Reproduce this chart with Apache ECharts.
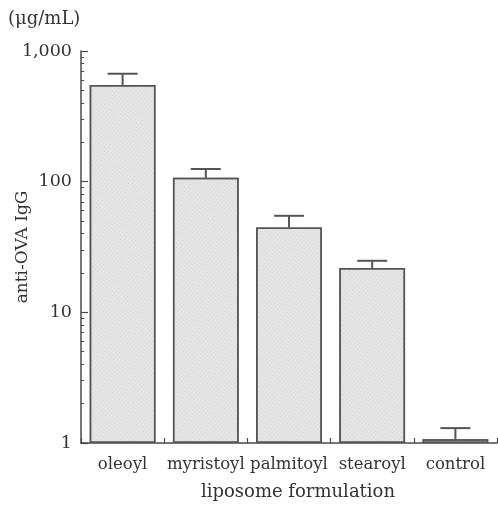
<!DOCTYPE html>
<html><head><meta charset="utf-8">
<script src="https://cdn.jsdelivr.net/npm/echarts@6/dist/echarts.min.js"></script>
<style>html,body{margin:0;padding:0;background:#fff}#c{width:498px;height:505px}</style>
</head><body><div id="c"></div>
<script>
const categories = ['oleoyl', 'myristoyl', 'palmitoyl', 'stearoyl', 'control'];
const meanValues = [550, 107, 44.6, 21.8, 1.07];
const errorTops = [670, 125, 54.8, 24.8, 1.30];
const majorTicks = [1, 10, 100, 1000];
const minorTicks = [2,3,4,5,6,7,8,9,20,30,40,50,60,70,80,90,200,300,400,500,600,700,800,900];

const FONT = 'DejaVu Serif';
const INK = '#4a4a4a';
const chart = echarts.init(document.getElementById('c'));
chart.setOption({
  animation: false,
  backgroundColor: '#fff',
  grid: { left: 81, right: 1, top: 51, bottom: 62, containLabel: false, outerBoundsMode: 'none' },
  xAxis: {
    type: 'category', data: categories,
    axisLine: { lineStyle: { color: INK, width: 1.5 } },
    axisTick: { show: true, inside: true, length: 5, lineStyle: { color: INK, width: 1.2 } },
    axisLabel: { color: '#333', fontFamily: FONT, fontSize: 16.5, margin: 13, interval: 0, hideOverlap: false },
    name: 'liposome formulation', nameLocation: 'middle', nameGap: 40, nameMoveOverlap: false,
    nameTextStyle: { color: '#333', fontFamily: FONT, fontSize: 18, padding: [0, 0, 0, 18] }
  },
  yAxis: [{
    type: 'log', logBase: 10, min: 1, max: 1000,
    axisLine: { show: true, lineStyle: { color: INK, width: 1.5 } },
    axisTick: { show: true, inside: true, length: 7, lineStyle: { color: INK, width: 1.2 }, customValues: majorTicks },
    axisLabel: { color: '#333', fontFamily: FONT, fontSize: 17.5, margin: 9, customValues: majorTicks,
      formatter: v => Math.round(v).toLocaleString('en-US') },
    splitLine: { show: false },
    name: 'anti-OVA IgG', nameLocation: 'middle', nameGap: 50, nameMoveOverlap: false,
    nameTextStyle: { color: '#333', fontFamily: FONT, fontSize: 17 }
  }, {
    type: 'log', logBase: 10, min: 1, max: 1000, position: 'left', offset: 0,
    axisLine: { show: false },
    axisTick: { show: true, inside: true, length: 3, lineStyle: { color: INK, width: 1 }, customValues: minorTicks },
    axisLabel: { show: false },
    splitLine: { show: false }
  }],
  graphic: [{
    type: 'text', left: 8, top: 10,
    style: { text: '(μg/mL)', fontFamily: FONT, fontSize: 18, fill: '#333' }
  }],
  series: [{
    type: 'bar', data: meanValues, barCategoryGap: '21%',
    itemStyle: { color: '#e6e6e6', borderColor: '#555', borderWidth: 1.5,
      decal: { symbol: 'rect', symbolSize: 1, color: 'rgba(170,170,170,0.45)', dashArrayX: [1, 2], dashArrayY: [1, 2], rotation: 0.7 } }
  }, {
    type: 'custom',
    data: categories.map((c, i) => [i, meanValues[i], errorTops[i]]),
    renderItem: function (params, api) {
      const i = api.value(0);
      const base = api.coord([i, api.value(1)]);
      const top = api.coord([i, api.value(2)]);
      const hw = 15;
      const st = { stroke: '#555', lineWidth: 2 };
      return { type: 'group', children: [
        { type: 'line', shape: { x1: base[0], y1: base[1], x2: top[0], y2: top[1] }, style: st },
        { type: 'line', shape: { x1: top[0] - hw, y1: top[1], x2: top[0] + hw, y2: top[1] }, style: st }
      ] };
    },
    z: 5
  }]
});
</script></body></html>
